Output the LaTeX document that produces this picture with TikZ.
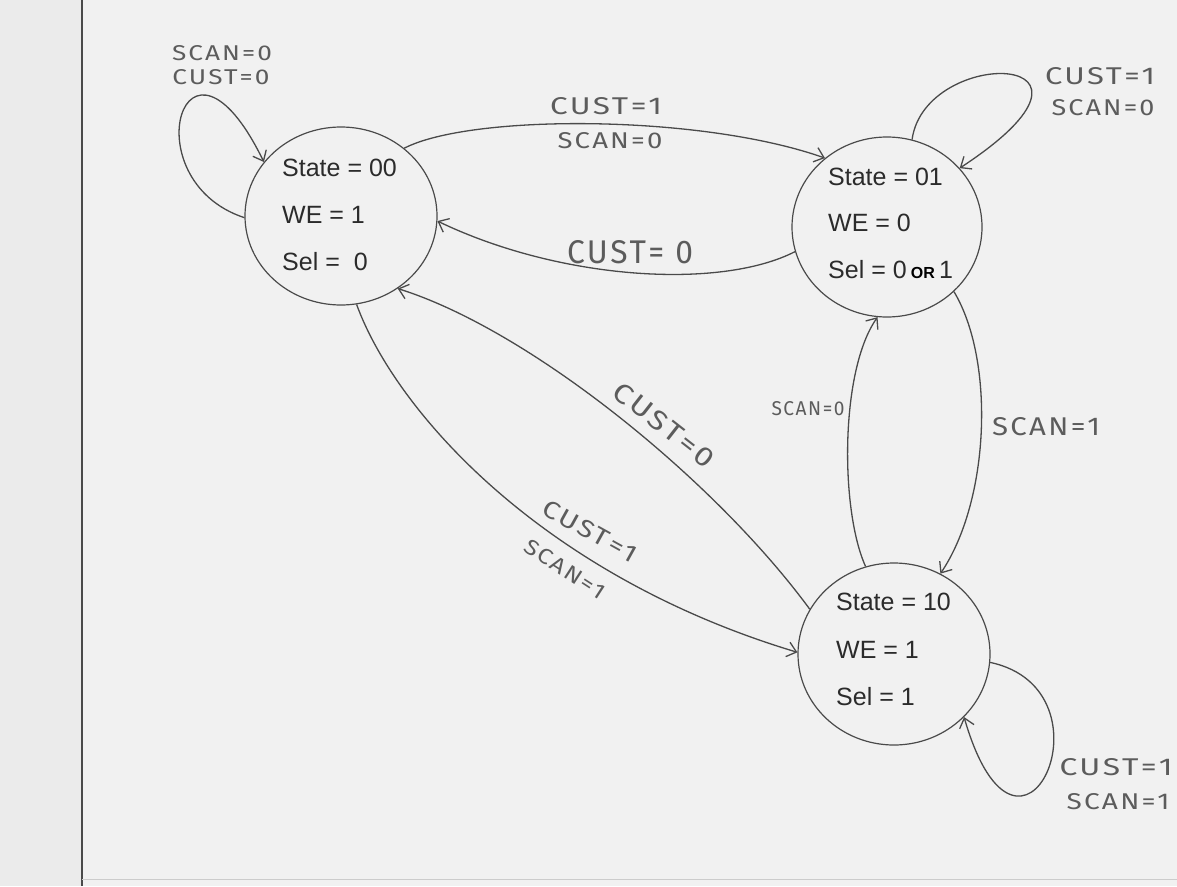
\documentclass[tikz,border=0pt]{standalone}
\usepackage{fontspec}
\usepackage{graphicx}
\setmainfont{Liberation Sans}
\newfontfamily\hand{Fira Sans}[LetterSpace=8]
\usetikzlibrary{arrows.meta,shapes.geometric}
\definecolor{paper}{HTML}{F1F1F1}
\definecolor{marginc}{HTML}{EBEBEB}
\definecolor{ink}{HTML}{4A4A4A}
\definecolor{txt}{HTML}{2B2B2B}
\definecolor{pencil}{HTML}{5C5C5C}
\newcommand{\hw}[3]{\resizebox{#1pt}{#2pt}{\hand #3}}
\begin{document}
\begin{tikzpicture}[x=1pt,y=-1pt,
  state/.style={ellipse, draw=ink, line width=1.2pt, inner sep=0pt},
  stt/.style={anchor=west, inner sep=0pt, text=txt, font=\fontsize{25}{25}\selectfont},
  edge/.style={draw=ink, line width=1.3pt, -{Straight Barb[length=9pt,width=15pt,line width=1.3pt]}},
  lbl/.style={inner sep=0pt, text=pencil}]
\useasboundingbox (0,0) rectangle (1177,886);
\fill[paper] (0,0) rectangle (1177,886);
\fill[marginc] (0,0) rectangle (82,886);
\draw[ink, line width=1.8pt] (82,0) -- (82,886);
\draw[black!20, line width=1pt] (82,879) -- (1177,879);

% states
\node[state, minimum width=192pt, minimum height=178pt] (s00) at (341,216) {};
\node[state, minimum width=190pt, minimum height=180pt] (s01) at (887,227) {};
\node[state, minimum width=192pt, minimum height=182pt] (s10) at (894,654) {};

\node[stt] (a1) at (282,168) {State = 00};
\node[stt] (a2) at (282,215) {WE = 1};
\node[stt] (a3) at (282,262) {Sel =\ \ 0};

\node[stt] (b1) at (828,177) {State = 01};
\node[stt] (b2) at (828,223) {WE = 0};
\node[stt] (b3) at (828,270) {Sel = 0\,{\fontsize{16}{16}\selectfont\bfseries\color{black}OR}\,1};

\node[stt] (c1) at (836,602) {State = 10};
\node[stt] (c2) at (836,650) {WE = 1};
\node[stt] (c3) at (836,697) {Sel = 1};

% transitions
\draw[edge] (s00.181) .. controls (130,180) and (185,0) .. (s00.145);
\draw[edge] (s00.47) .. controls (470,114) and (700,114) .. (s01.132);
\draw[edge] (s01.195) .. controls (720,290) and (560,280) .. (s00.-3.5);
\draw[edge] (s10.152) .. controls (715,480) and (530,330) .. (s00.-52);
\draw[edge] (s00.-80) .. controls (395,410) and (540,575) .. (s10.179);
\draw[edge] (s10.108) .. controls (840,510) and (840,370) .. (s01.-96);
\draw[edge] (s01.-44) .. controls (995,360) and (990,500) .. (s10.60);
\draw[edge] (s01.74) .. controls (925,45) and (1140,50) .. (s01.39);
\draw[edge] (s10.-5) .. controls (1120,690) and (1020,910) .. (s10.-42);

% labels
\node[lbl] (l1) at (222,53) {\hw{100}{15}{SCAN=0}};
\node[lbl] (l2) at (221,77) {\hw{97}{15}{CUST=0}};
\node[lbl] (l3) at (606,106) {\hw{112}{17}{CUST=1}};
\node[lbl] (l4) at (610,141) {\hw{105}{16}{SCAN=0}};
\node[lbl] (l5) at (630,252) {\hw{126}{23}{CUST= 0}};
\node[lbl] (l6) at (1100,76) {\hw{110}{17}{CUST=1}};
\node[lbl] (l7) at (1103,108) {\hw{103}{16}{SCAN=0}};
\node[lbl, rotate=-38] (l8) at (664,425) {\hw{120}{19}{CUST=0}};
\node[lbl, rotate=-29] (l9) at (590,531) {\hw{104}{17}{CUST=1}};
\node[lbl, rotate=-33] (l10) at (565,569) {\hw{92}{15}{SCAN=1}};
\node[lbl] (l11) at (808,409) {\hw{73}{14}{SCAN=0}};
\node[lbl] (l12) at (1046,427) {\hw{108}{18}{SCAN=1}};
\node[lbl] (l13) at (1116,767) {\hw{113}{17}{CUST=1}};
\node[lbl] (l14) at (1118,802) {\hw{103}{16}{SCAN=1}};
\end{tikzpicture}
\end{document}
